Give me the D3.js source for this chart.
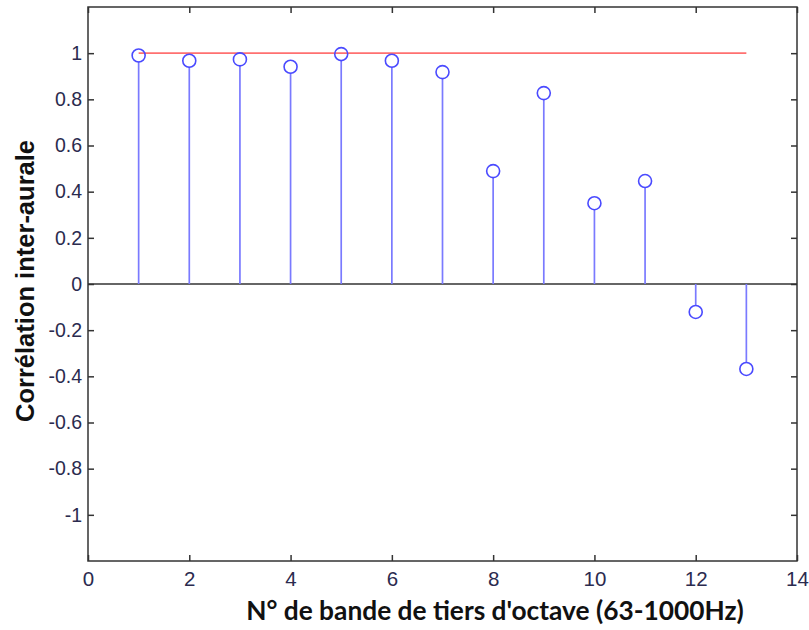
<!DOCTYPE html>
<html><head><meta charset="utf-8">
<script src="https://cdn.jsdelivr.net/npm/d3@7"></script>
<style>body{margin:0;background:#fff}</style>
</head><body>
<svg id="c" width="809" height="630"></svg>
<script>
const bands = [1,2,3,4,5,6,7,8,9,10,11,12,13];
const correlation = [0.99,0.967,0.973,0.941,0.996,0.967,0.918,0.489,0.827,0.35,0.446,-0.121,-0.368];
const referenceLevel = 1;
const xTicks = [0,2,4,6,8,10,12,14];
const yTicks = [-1,-0.8,-0.6,-0.4,-0.2,0,0.2,0.4,0.6,0.8,1];
const xLabel = "N° de bande de tiers d'octave (63-1000Hz)";
const yLabel = "Corrélation inter-aurale";

const svg = d3.select("#c");
const L=88,R=797,T=7,B=561;
const x = d3.scaleLinear().domain([0,14]).range([L,R]);
const y = d3.scaleLinear().domain([-1.2,1.2]).range([B,T]);
const axisColor="#333";
const fmt = d => String(+(+d).toFixed(1)).replace("\u2212","-");

svg.append("rect").attr("x",L).attr("y",T).attr("width",R-L).attr("height",B-T)
  .attr("fill","none").attr("stroke",axisColor).attr("stroke-width",1.5);

const gx = svg.append("g").attr("transform",`translate(0,${B})`)
  .call(d3.axisBottom(x).tickValues(xTicks).tickSizeInner(-6).tickSizeOuter(0).tickPadding(10).tickFormat(fmt));
const gxt = svg.append("g").attr("transform",`translate(0,${T})`)
  .call(d3.axisTop(x).tickValues(xTicks).tickSizeInner(-6).tickSizeOuter(0).tickFormat(""));
const gy = svg.append("g").attr("transform",`translate(${L},0)`)
  .call(d3.axisLeft(y).tickValues(yTicks).tickSizeInner(-6).tickSizeOuter(0).tickPadding(6).tickFormat(fmt));
const gyr = svg.append("g").attr("transform",`translate(${R},0)`)
  .call(d3.axisRight(y).tickValues(yTicks).tickSizeInner(-6).tickSizeOuter(0).tickFormat(""));
[gx,gxt,gy,gyr].forEach(g=>{
  g.attr("font-size",20).attr("font-family","'Liberation Sans',Arial,sans-serif");
  g.select(".domain").remove();
  g.selectAll("line").attr("stroke",axisColor).attr("stroke-width",1.5);
  g.selectAll("text").attr("fill","#2b2b4f");
});
gy.selectAll("text").attr("font-size",19.5);
gx.selectAll("text").attr("font-size",20.5).attr("dy","0.71em");

svg.append("line").attr("x1",L).attr("x2",R).attr("y1",y(0)).attr("y2",y(0))
  .attr("stroke",axisColor).attr("stroke-width",1.5);

svg.append("line").attr("x1",x(bands[0])).attr("x2",x(bands[bands.length-1]))
  .attr("y1",y(referenceLevel)).attr("y2",y(referenceLevel))
  .attr("stroke","#ff7070").attr("stroke-width",1.6);

const data = bands.map((b,i)=>({b,v:correlation[i]}));
svg.append("g").selectAll("line").data(data).join("line")
  .attr("x1",d=>x(d.b)).attr("x2",d=>x(d.b))
  .attr("y1",y(0)).attr("y2",d=>y(d.v)+(d.v>=0?6:-6))
  .attr("stroke","#7a7aff").attr("stroke-width",1.7);
svg.append("g").selectAll("circle").data(data).join("circle")
  .attr("cx",d=>x(d.b)).attr("cy",d=>y(d.v)).attr("r",6.5)
  .attr("fill","none").attr("stroke","#4a4aff").attr("stroke-width",1.6);

svg.append("text").attr("x",495).attr("y",620).attr("text-anchor","middle")
  .attr("font-family","Lato,'Open Sans',sans-serif").attr("font-weight","bold").attr("font-size",26.3)
  .attr("fill","#111").text(xLabel);
svg.append("text").attr("transform",`translate(34,281) rotate(-90)`).attr("text-anchor","middle")
  .attr("font-family","'Liberation Sans',Arial,sans-serif").attr("font-weight","bold").attr("font-size",25.5)
  .attr("fill","#111").text(yLabel);
</script>
</body></html>
